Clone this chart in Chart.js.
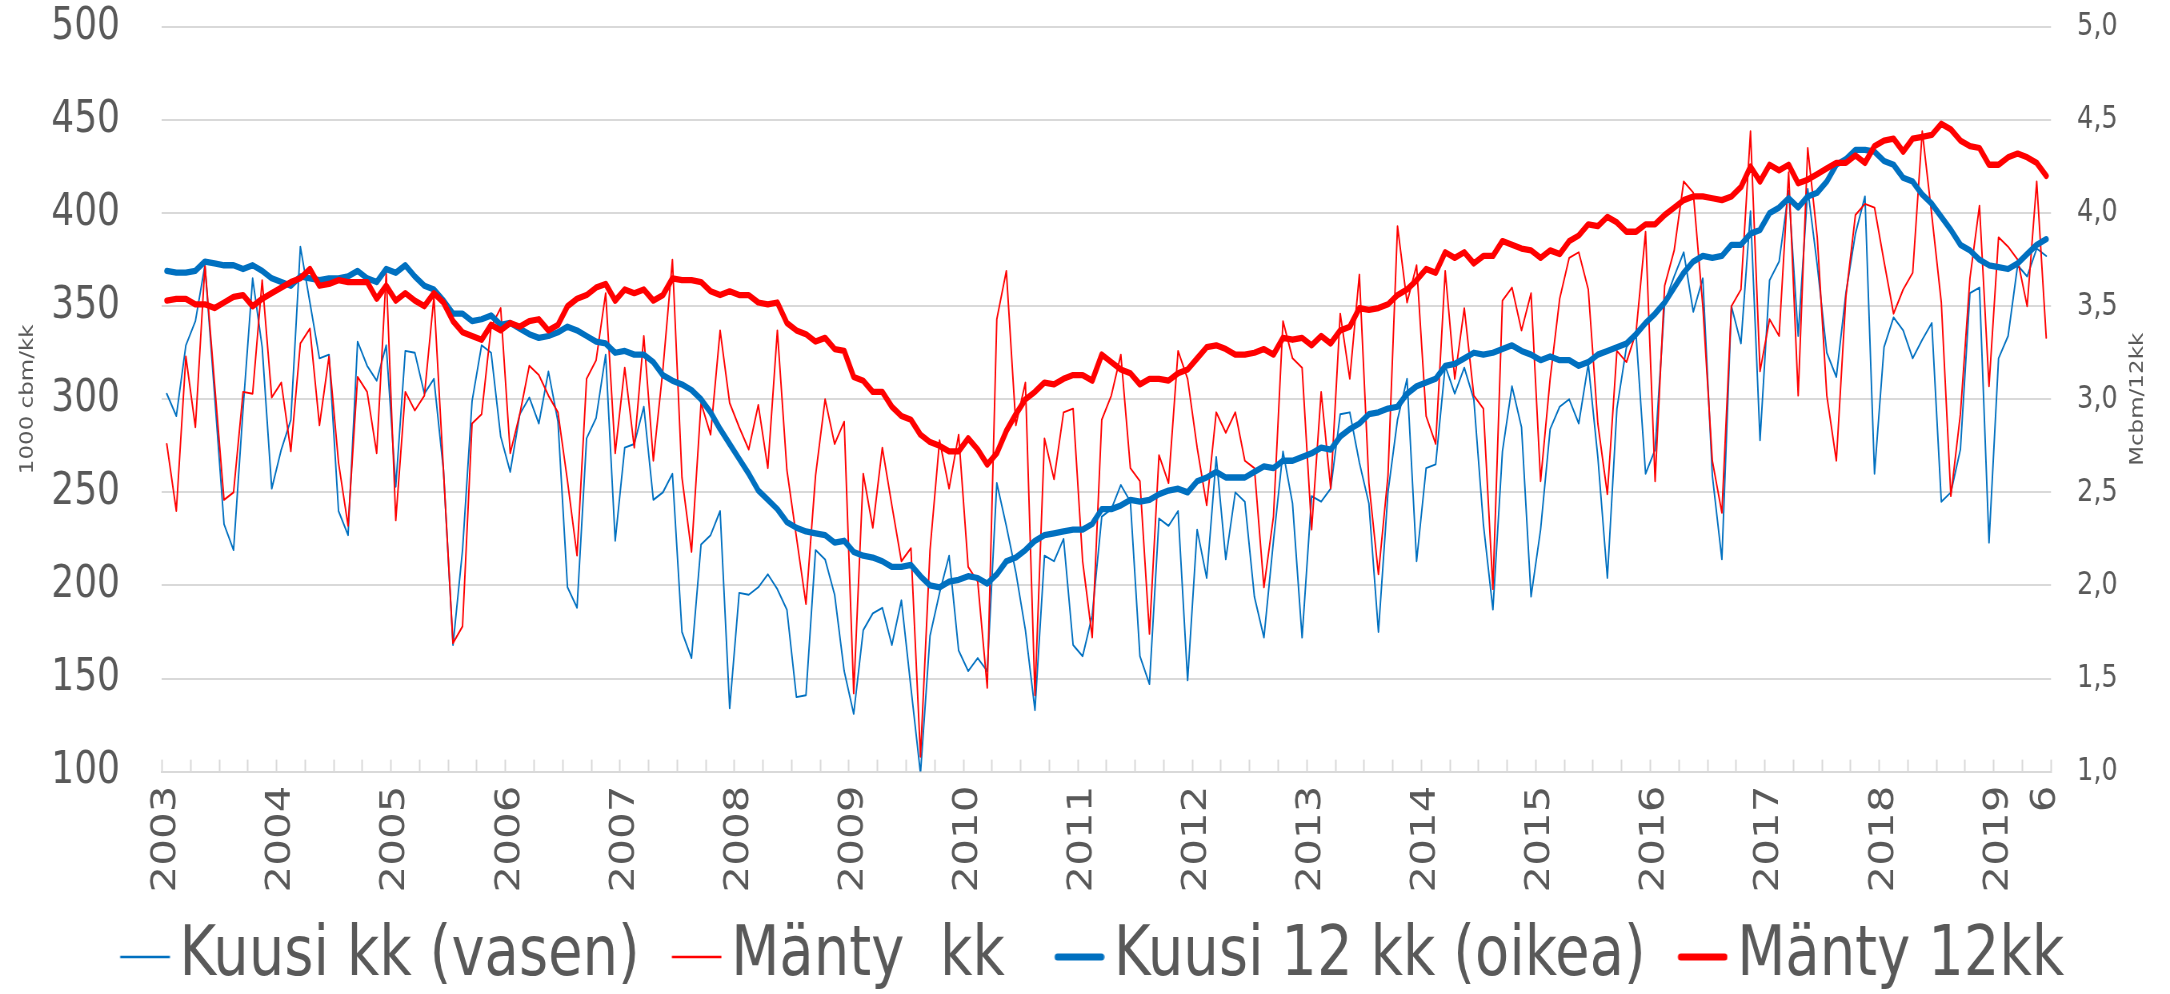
<!DOCTYPE html>
<html><head><meta charset="utf-8">
<script src="https://cdn.jsdelivr.net/npm/chart.js@4"></script>
<style>
html,body{margin:0;padding:0;background:#fff;overflow:hidden;}
#c{display:block;width:2170px !important;height:994px !important;}
</style></head>
<body>
<canvas id="c" width="2712" height="994" style="width:2170px;height:994px;"></canvas>
<script>
// ---- data ----
const years = ['2003','2004','2005','2006','2007','2008','2009','2010','2011','2012','2013','2014','2015','2016','2017','2018','2019'];
const lastMonthLabel = '6';
const leftAxisTitle = '1000 cbm/kk';
const rightAxisTitle = 'Mcbm/12kk';
const seriesNames = ['Kuusi kk (vasen)', 'Mänty  kk', 'Kuusi 12 kk (oikea)', 'Mänty 12kk'];

const kuusiKk = [
 303,291,329,342,372,303,233,219,295,365,328,252,
 273,289,382,352,322,324,240,227,331,318,310,329,
 253,326,325,303,311,262,168,219,299,329,325,280,
 261,292,301,287,315,288,199,188,279,290,324,224,
 274,276,296,246,250,260,175,161,222,227,240,134,
 196,195,199,206,198,187,140,141,219,214,195,154,
 131,176,185,188,168,192,145,99,173,196,216,165,
 154,161,154,255,232,207,176,133,216,213,225,168,
 162,184,237,241,254,245,162,147,236,232,240,149,
 230,204,269,214,250,245,194,172,224,272,244,172,
 248,245,252,292,293,266,244,175,250,289,311,213,
 263,265,318,303,317,300,233,187,272,307,285,194,
 230,284,296,300,287,319,269,204,295,328,335,260,
 273,352,366,379,347,365,259,214,350,330,401,278,
 364,374,412,334,413,372,325,312,357,389,409,260,
 328,344,337,322,332,341,245,250,273,357,360,223,
 322,334,372,366,381,377
];
const mantyKk = [
 276,240,323,285,372,309,246,250,304,303,364,301,
 309,272,330,338,286,323,266,232,312,304,271,368,
 235,304,294,302,355,262,169,178,287,292,339,349,
 271,292,318,313,302,293,256,216,311,321,357,271,
 317,274,334,267,316,375,258,218,298,281,337,298,
 285,273,297,263,337,262,226,190,259,300,276,288,
 142,260,231,274,243,213,220,108,219,278,252,281,
 210,202,145,343,369,286,309,141,279,257,293,295,
 213,172,289,302,324,263,256,174,270,255,326,311,
 274,243,293,282,293,267,263,199,237,342,322,317,
 230,304,252,346,311,367,255,206,259,393,352,372,
 291,276,369,311,349,302,295,198,353,360,337,357,
 256,311,354,376,379,359,287,249,326,320,336,390,
 256,361,380,417,411,350,267,239,350,359,444,315,
 343,334,422,302,435,387,302,267,355,399,405,403,
 374,346,359,368,444,399,352,248,292,365,404,307,
 387,382,375,350,417,333
];
const kuusi12 = [
 3.69,3.68,3.68,3.69,3.74,3.73,3.72,3.72,3.70,3.72,3.69,3.65,
 3.63,3.61,3.66,3.65,3.64,3.65,3.65,3.66,3.69,3.65,3.63,3.70,
 3.68,3.72,3.66,3.61,3.59,3.53,3.46,3.46,3.42,3.43,3.45,3.40,
 3.41,3.38,3.35,3.33,3.34,3.36,3.39,3.37,3.34,3.31,3.30,3.25,
 3.26,3.24,3.24,3.20,3.13,3.10,3.08,3.05,3.00,2.93,2.84,2.76,
 2.68,2.60,2.51,2.46,2.41,2.34,2.31,2.29,2.28,2.27,2.23,2.24,
 2.18,2.16,2.15,2.13,2.10,2.10,2.11,2.05,2.00,1.99,2.02,2.03,
 2.05,2.04,2.01,2.06,2.13,2.15,2.19,2.24,2.27,2.28,2.29,2.30,
 2.30,2.33,2.41,2.41,2.43,2.46,2.45,2.46,2.49,2.51,2.52,2.50,
 2.56,2.58,2.61,2.58,2.58,2.58,2.61,2.64,2.63,2.67,2.67,2.69,
 2.71,2.74,2.73,2.80,2.84,2.87,2.92,2.93,2.95,2.96,3.03,3.07,
 3.09,3.11,3.18,3.19,3.22,3.25,3.24,3.25,3.27,3.29,3.26,3.24,
 3.21,3.23,3.21,3.21,3.18,3.20,3.24,3.26,3.28,3.30,3.35,3.41,
 3.46,3.52,3.60,3.68,3.74,3.77,3.76,3.77,3.83,3.83,3.89,3.91,
 4.00,4.03,4.08,4.03,4.09,4.11,4.17,4.26,4.29,4.34,4.34,4.33,
 4.28,4.26,4.19,4.17,4.10,4.05,3.98,3.91,3.83,3.80,3.75,3.72,
 3.71,3.70,3.73,3.78,3.83,3.86
];
const manty12 = [
 3.53,3.54,3.54,3.51,3.51,3.49,3.52,3.55,3.56,3.50,3.54,3.57,
 3.60,3.63,3.65,3.70,3.61,3.62,3.64,3.63,3.63,3.63,3.54,3.61,
 3.53,3.57,3.53,3.50,3.57,3.52,3.42,3.36,3.34,3.32,3.40,3.37,
 3.41,3.39,3.42,3.43,3.37,3.40,3.50,3.54,3.56,3.60,3.62,3.53,
 3.59,3.57,3.59,3.53,3.56,3.65,3.64,3.64,3.63,3.58,3.56,3.58,
 3.56,3.56,3.52,3.51,3.52,3.41,3.37,3.35,3.31,3.33,3.27,3.26,
 3.12,3.10,3.04,3.04,2.96,2.91,2.89,2.81,2.77,2.75,2.72,2.72,
 2.79,2.73,2.65,2.71,2.83,2.92,3.00,3.04,3.09,3.08,3.11,3.13,
 3.13,3.10,3.24,3.20,3.16,3.14,3.08,3.11,3.11,3.10,3.14,3.16,
 3.22,3.28,3.29,3.27,3.24,3.24,3.25,3.27,3.24,3.33,3.32,3.33,
 3.29,3.34,3.30,3.37,3.39,3.49,3.48,3.49,3.51,3.56,3.59,3.64,
 3.70,3.68,3.79,3.76,3.79,3.73,3.77,3.77,3.85,3.83,3.81,3.80,
 3.76,3.80,3.78,3.85,3.88,3.94,3.93,3.98,3.95,3.90,3.90,3.94,
 3.94,3.99,4.03,4.07,4.09,4.09,4.08,4.07,4.09,4.14,4.25,4.17,
 4.26,4.23,4.26,4.16,4.18,4.21,4.24,4.27,4.27,4.31,4.27,4.36,
 4.39,4.40,4.33,4.40,4.41,4.42,4.48,4.45,4.39,4.36,4.35,4.26,
 4.26,4.30,4.32,4.30,4.27,4.20
];

// month categories (one per data point)
const categories = kuusiKk.map((_, i) => years[Math.floor(i / 12)] + '-' + (i % 12 + 1));
function tickLabel(i) {
  if (i === categories.length - 1) return lastMonthLabel;
  if (i % 12 === 0) return years[i / 12];
  return '';
}

// ---- style ----
const FONT = 'DejaVu Sans';
const GREY = '#595959';
const GRID = '#d9d9d9';
const BLUE = '#0070C0';
const RED = '#FF0000';
const SX = 2170 / 2712;           // horizontal squeeze of the canvas
const L = v => v / SX;             // physical x -> logical x
const PAD_BOTTOM = -8;

// legend geometry (logical px)
const LEG_FONT = 70, LEG_PAD = 22, LEG_BOX = 57, LEG_LINE_OFF = 18, LEG_LINE_LEN = 62;
function sample(color, w) {
  const c = document.createElement('canvas');
  const half = 52;
  c.width = half * 2; c.height = 12;
  const g = c.getContext('2d');
  g.strokeStyle = color; g.lineWidth = w; g.lineCap = w > 3 ? 'round' : 'butt';
  const start = half - LEG_BOX / 2 + LEG_LINE_OFF;
  const m = w > 3 ? w / 2 : 0;
  g.beginPath(); g.moveTo(start + m, 6); g.lineTo(start + LEG_LINE_LEN - m, 6); g.stroke();
  return c;
}
const samples = [sample(BLUE, 2.4), sample(RED, 2.4), sample(BLUE, 7), sample(RED, 7)];

const rightTitlePlugin = {
  id: 'rightTitle',
  afterDraw(chart) {
    const {ctx, chartArea} = chart;
    ctx.save();
    ctx.fillStyle = GREY;
    ctx.font = '23px "' + FONT + '"';
    ctx.textAlign = 'center';
    ctx.textBaseline = 'middle';
    ctx.translate(chartArea.right + L(87), (chartArea.top + chartArea.bottom) / 2);
    ctx.rotate(-Math.PI / 2);
    ctx.fillText(rightAxisTitle, 0, 0);
    ctx.restore();
  }
};

new Chart(document.getElementById('c'), {
  type: 'line',
  data: {
    labels: categories,
    datasets: [
      {label: seriesNames[0], data: kuusiKk, yAxisID: 'y', borderColor: BLUE, backgroundColor: BLUE, borderWidth: 1.9, order: 4},
      {label: seriesNames[1], data: mantyKk, yAxisID: 'y', borderColor: RED, backgroundColor: RED, borderWidth: 1.9, order: 3},
      {label: seriesNames[2], data: kuusi12, yAxisID: 'y1', borderColor: BLUE, backgroundColor: BLUE, borderWidth: 6.3, order: 2},
      {label: seriesNames[3], data: manty12, yAxisID: 'y1', borderColor: RED, backgroundColor: RED, borderWidth: 6.3, order: 1}
    ]
  },
  options: {
    responsive: false,
    maintainAspectRatio: false,
    devicePixelRatio: 1,
    animation: false,
    layout: {padding: {left: 0, right: 0, top: 0, bottom: PAD_BOTTOM}},
    elements: {
      point: {radius: 0, hoverRadius: 0},
      line: {tension: 0, borderJoinStyle: 'round', borderCapStyle: 'round', fill: false}
    },
    plugins: {
      tooltip: {enabled: false},
      legend: {
        position: 'bottom',
        labels: {
          color: GREY,
          font: {family: FONT, size: LEG_FONT},
          padding: LEG_PAD,
          usePointStyle: true,
          pointStyleWidth: LEG_BOX,
          sort: (a, b) => a.datasetIndex - b.datasetIndex,
          generateLabels: chart => {
            const items = Chart.defaults.plugins.legend.labels.generateLabels(chart);
            items.forEach(it => {
              it.pointStyle = samples[it.datasetIndex];
              if (it.datasetIndex === 1) it.text = it.text + ' ';
            });
            return items;
          }
        }
      }
    },
    scales: {
      x: {
        type: 'category',
        offset: true,
        ticks: {
          autoSkip: false, minRotation: 90, maxRotation: 90,
          color: GREY, font: {family: FONT, size: 42}, padding: 26,
          callback: (v, i) => tickLabel(i)
        },
        grid: {
          offset: true, drawOnChartArea: false, drawTicks: true, tickLength: -12, tickWidth: 2,
          tickColor: c => (c.index === undefined || c.index % 3 === 0) ? GRID : 'rgba(0,0,0,0)'
        },
        border: {display: true, color: GRID, width: 2},
        afterFit: s => { s.height = 994 - PAD_BOTTOM - (LEG_FONT + LEG_PAD + 10) - 771.6; }
      },
      y: {
        position: 'left', min: 100, max: 500,
        ticks: {stepSize: 50, color: GREY, font: {family: FONT, size: 45}, padding: 0},
        grid: {color: GRID, lineWidth: 2, drawTicks: true, tickLength: L(42), tickColor: 'rgba(0,0,0,0)'},
        border: {display: false},
        title: {display: true, text: leftAxisTitle, color: GREY, font: {family: FONT, size: 23}, padding: {top: L(28) - 13.8, bottom: 0}},
        afterFit: s => { s.width = L(162); }
      },
      y1: {
        position: 'right', min: 1, max: 5,
        ticks: {stepSize: 0.5, color: GREY, font: {family: FONT, size: 32}, padding: 0,
          callback: v => Number(v).toFixed(1).replace('.', ',')},
        grid: {drawOnChartArea: false, drawTicks: true, tickLength: L(26), tickColor: 'rgba(0,0,0,0)'},
        border: {display: false},
        afterFit: s => { s.width = 2712 - L(2051); }
      }
    }
  },
  plugins: [rightTitlePlugin]
});
</script>
</body></html>
